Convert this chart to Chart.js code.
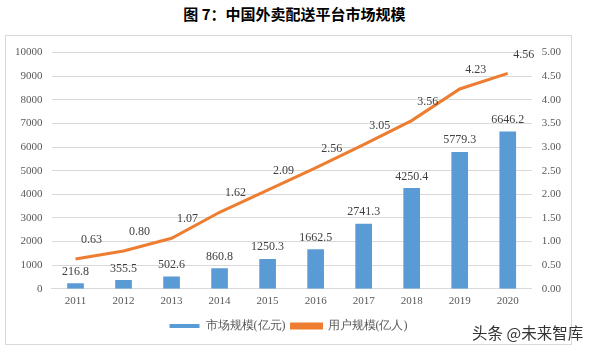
<!DOCTYPE html>
<html>
<head>
<meta charset="utf-8">
<script src="https://cdn.jsdelivr.net/npm/chart.js@4/dist/chart.umd.min.js"></script>
<style>
	body { margin: 0; background: #fff; width: 589px; height: 350px; position: relative; overflow: hidden; }
	#title { position: absolute; left: 0; top: 3px; width: 589px; text-align: center; font: bold 15px "Noto Sans CJK SC", sans-serif; color: #000; }
	#frame { position: absolute; left: 5px; top: 35px; width: 565px; height: 308px; border: 1px solid #d9d9d9; }
	#mark { position: absolute; left: 472px; top: 321px; font: 15.5px "Noto Sans CJK SC", sans-serif; color: #333; line-height: 22px; }
</style>
</head>
<body>
<div id="title">图 7：中国外卖配送平台市场规模</div>
<div id="frame"><canvas id="chart" width="565" height="308"></canvas></div>
<div id="mark">头条 @未来智库</div>
<script>
var years = ['2011', '2012', '2013', '2014', '2015', '2016', '2017', '2018', '2019', '2020'];
var marketSize = [216.8, 355.5, 502.6, 860.8, 1250.3, 1662.5, 2741.3, 4250.4, 5779.3, 6646.2];
var userSize = [0.63, 0.80, 1.07, 1.62, 2.09, 2.56, 3.05, 3.56, 4.23, 4.56];
var marketLabel = '市场规模(亿元)';
var userLabel = '用户规模(亿人)';

var serif = '"Liberation Serif", "DejaVu Serif", "Times New Roman", serif';

//______ value labels drawn next to bars and line points
var valueLabels = {
	id: 'valueLabels',
	afterDatasetsDraw: function(chart) {
		var ctx = chart.ctx;
		ctx.save();
		ctx.font = '12px ' + serif;
		ctx.fillStyle = '#404040';
		ctx.textAlign = 'center';
		ctx.textBaseline = 'middle';
		chart.getDatasetMeta(0).data.forEach((bar, i) => {
			ctx.fillText(marketSize[i].toFixed(1), bar.x, bar.y - 12);
		});
		chart.getDatasetMeta(1).data.forEach((pt, i) => {
			ctx.fillText(userSize[i].toFixed(2), pt.x + 16, pt.y - 19);
		});
		ctx.restore();
	}
};

var ctx = document.getElementById('chart');
new Chart(ctx, {
	data: {
		labels: years,
		datasets: [
			{
				type: 'bar',
				label: marketLabel,
				data: marketSize,
				backgroundColor: '#5B9BD5',
				barThickness: 16,
				yAxisID: 'y',
				order: 2
			},
			{
				type: 'line',
				label: userLabel,
				data: userSize,
				borderColor: '#ED7D31',
				backgroundColor: '#ED7D31',
				borderWidth: 3,
				pointRadius: 0,
				tension: 0,
				yAxisID: 'y1',
				order: 1
			}
		]
	},
	options: {
		responsive: false,
		animation: false,
		layout: { padding: { left: 0, right: 0, top: 10, bottom: 2 } },
		plugins: {
			legend: {
				position: 'bottom',
				labels: {
					boxWidth: 30,
					boxHeight: 4,
					color: '#595959',
					font: { family: serif, size: 12 },
					padding: 6,
					sort: function(a, b) { return a.datasetIndex - b.datasetIndex; }
				}
			},
			tooltip: { enabled: false }
		},
		scales: {
			x: {
				grid: { display: false, drawTicks: false },
				border: { color: '#d9d9d9' },
				ticks: { color: '#595959', font: { family: serif, size: 11 }, padding: 6 }
			},
			y: {
				position: 'left',
				min: 0,
				max: 10000,
				ticks: { stepSize: 1000, color: '#595959', font: { family: serif, size: 11 }, padding: 9,
					callback: function(v) { return String(v); } },
				grid: { color: '#d9d9d9', drawTicks: false },
				border: { display: false }
			},
			y1: {
				position: 'right',
				min: 0,
				max: 5,
				ticks: { stepSize: 0.5, color: '#595959', font: { family: serif, size: 11 }, padding: 10,
					callback: function(v) { return v.toFixed(2); } },
				grid: { display: false, drawTicks: false },
				border: { display: false }
			}
		}
	},
	plugins: [valueLabels]
});
</script>
</body>
</html>
